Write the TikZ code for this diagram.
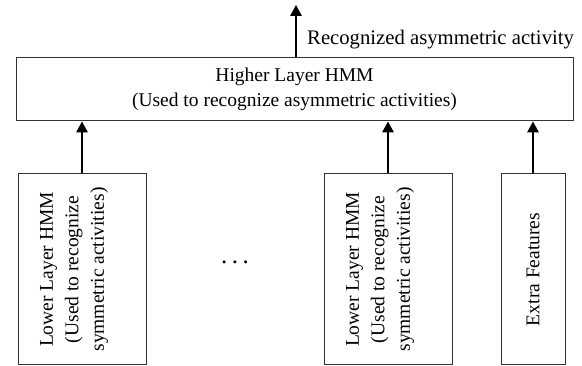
\documentclass[tikz,border=0pt]{standalone}
\usepackage{fontspec}
\setmainfont{Liberation Serif}
\usetikzlibrary{arrows.meta}
\begin{document}
\begin{tikzpicture}[x=1pt,y=-1pt,
  box/.style={draw=black!80, line width=1pt, inner sep=0pt},
  txt/.style={font=\fontsize{19.5}{25.5}\selectfont, align=center, inner sep=0pt},
  arr/.style={line width=1.8pt, -{Triangle[width=11.5pt,length=11pt]}}]
\useasboundingbox (0,0) rectangle (582,366);
\node[box, minimum width=557pt, minimum height=63pt] (high) at (294.5,89.5) {};
\node[txt] (hightxt) at (294.5,89.5) {Higher Layer HMM\\(Used to recognize asymmetric activities)};
\node[box, minimum width=128pt, minimum height=191pt] (low1) at (82,269.5) {};
\node[txt, rotate=90] (low1txt) at (74,269.5) {Lower Layer HMM\\(Used to recognize\\symmetric activities)};
\node[box, minimum width=128pt, minimum height=191pt] (low2) at (388,269.5) {};
\node[txt, rotate=90] (low2txt) at (380,269.5) {Lower Layer HMM\\(Used to recognize\\symmetric activities)};
\node[box, minimum width=64pt, minimum height=191pt] (extra) at (533,269.5) {};
\node[txt, rotate=90] (extratxt) at (533,269.5) {Extra Features};
\node[txt, anchor=base, font=\fontsize{25}{25}\selectfont] (dots) at (235,264) {.\hspace{4.5pt}.\hspace{4.5pt}.};
\coordinate (out) at (296,5);
\draw[arr] (high.north -| out) -- (out);
\node[txt, anchor=base west, font=\fontsize{20.7}{25}\selectfont] (lbl) at (307,45) {Recognized asymmetric activity};
\draw[arr] (low1.north) -- (low1.north |- high.south);
\draw[arr] (low2.north) -- (low2.north |- high.south);
\draw[arr] (extra.north) -- (extra.north |- high.south);
\end{tikzpicture}
\end{document}
